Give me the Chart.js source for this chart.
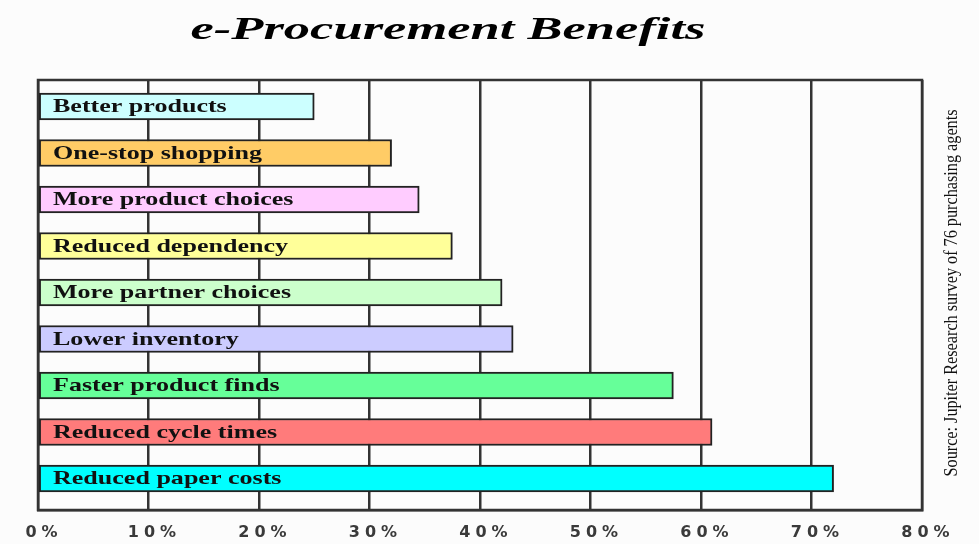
<!DOCTYPE html>
<html>
<head>
<meta charset="utf-8">
<script src="https://cdn.jsdelivr.net/npm/chart.js@4"></script>
<style>
html,body{margin:0;padding:0;background:#fcfcfc;}
#wrap{width:979px;height:544px;}
</style>
</head>
<body>
<div id="wrap"><canvas id="c" width="979" height="544"></canvas></div>
<script>
const titleText = 'e-Procurement Benefits';
const sourceText = 'Source: Jupiter Research survey of 76 purchasing agents';
const categories = ['Better products','One-stop shopping','More product choices','Reduced dependency','More partner choices','Lower inventory','Faster product finds','Reduced cycle times','Reduced paper costs'];
const values = [25, 32, 34.5, 37.5, 42, 43, 57.5, 61, 72];
const tickLabels = ['0%','10%','20%','30%','40%','50%','60%','70%','80%'];
const barColors = ['#ccffff','#ffcc66','#ffccff','#ffff99','#ccffcc','#ccccff','#66ff99','#ff7b7b','#00ffff'];

const framePlugin = {
  id: 'frame',
  beforeDraw(chart){ chart.ctx.letterSpacing = '5px'; },
  beforeDatasetsDraw(chart){
    const ctx = chart.ctx, a = chart.chartArea;
    ctx.letterSpacing = '0px';
    ctx.save();
    ctx.strokeStyle = '#333';
    ctx.lineWidth = 2.5;
    ctx.strokeRect(a.left, a.top, a.right - a.left, a.bottom - a.top);
    ctx.restore();
  },
  afterDraw(chart){
    const ctx = chart.ctx, a = chart.chartArea;
    ctx.save();
    ctx.letterSpacing = '0px';
    ctx.fillStyle = '#111';
    // bar labels
    ctx.font = 'bold 19px "Liberation Serif"';
    ctx.textBaseline = 'middle';
    ctx.textAlign = 'left';
    const meta = chart.getDatasetMeta(0);
    meta.data.forEach((bar, i) => {
      ctx.save();
      ctx.translate(a.left + 15, bar.y + 1);
      ctx.scale(1.37, 1);
      ctx.fillText(categories[i], 0, 0);
      ctx.restore();
    });
    // title
    ctx.fillStyle = '#000';
    ctx.font = 'italic bold 31px "Liberation Serif"';
    ctx.textAlign = 'center';
    ctx.textBaseline = 'alphabetic';
    let w = ctx.measureText(titleText).width;
    ctx.save();
    ctx.translate(448, 39);
    ctx.scale(515 / w, 1);
    ctx.fillText(titleText, 0, 0);
    ctx.restore();
    // source
    ctx.fillStyle = '#111';
    ctx.font = '18px "Liberation Serif"';
    ctx.textBaseline = 'middle';
    w = ctx.measureText(sourceText).width;
    ctx.save();
    ctx.translate(952, 293);
    ctx.rotate(-Math.PI / 2);
    ctx.scale(367 / w, 1);
    ctx.fillText(sourceText, 0, 0);
    ctx.restore();
    ctx.restore();
  }
};

new Chart(document.getElementById('c'), {
  type: 'bar',
  data: {
    datasets: [{
      data: values.map((v, i) => ({x: v, y: i})),
      backgroundColor: barColors,
      borderColor: '#222',
      borderWidth: 2,
      borderSkipped: false,
      barThickness: 27
    }]
  },
  options: {
    indexAxis: 'y',
    responsive: false,
    animation: false,
    layout: {padding: {left: 38, top: 80, right: 57, bottom: 0}},
    plugins: {legend: {display: false}, tooltip: {enabled: false}, title: {display: false}},
    scales: {
      x: {
        type: 'linear',
        min: 0, max: 80,
        afterFit(s){ s.height = 34; },
        ticks: {
          stepSize: 10,
          padding: 13,
          labelOffset: 6,
          color: '#3a3a3a',
          font: {family: 'DejaVu Sans', size: 16, weight: 'bold'},
          callback: (v, i) => tickLabels[i]
        },
        grid: {color: '#333', lineWidth: 2.5, drawTicks: false},
        border: {display: true, color: '#333', width: 2.5}
      },
      y: {
        type: 'linear',
        display: false,
        offset: false,
        reverse: true,
        min: -0.57,
        max: 8.677
      }
    }
  },
  plugins: [framePlugin]
});
</script>
</body>
</html>
